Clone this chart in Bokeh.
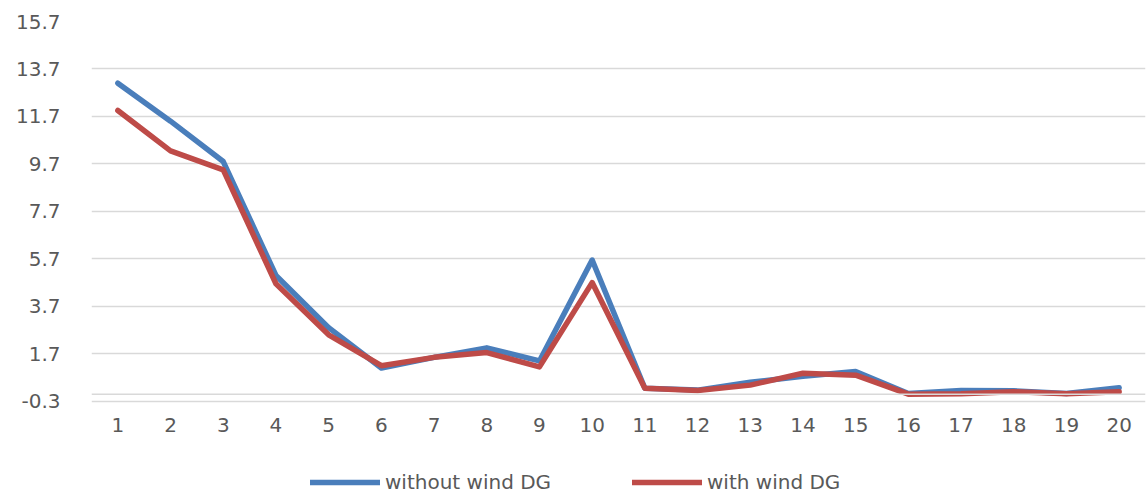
from bokeh.plotting import figure
from bokeh.models import FixedTicker, Span, Legend, LegendItem, Range1d
from bokeh.embed import file_html
from bokeh.resources import INLINE

categories = list(range(1, 21))
without_wind = [13.1, 11.5, 9.8, 5.0, 2.8, 1.1, 1.55, 1.95, 1.4, 5.65,
                0.25, 0.17, 0.5, 0.75, 0.95, 0.03, 0.15, 0.14, 0.03, 0.27]
with_wind = [11.95, 10.25, 9.45, 4.65, 2.5, 1.2, 1.55, 1.75, 1.15, 4.7,
             0.25, 0.15, 0.38, 0.88, 0.8, 0.0, 0.02, 0.1, 0.02, 0.1]
y_ticks = [-0.3, 1.7, 3.7, 5.7, 7.7, 9.7, 11.7, 13.7, 15.7]
series_names = ["without wind DG", "with wind DG"]

FONT = "DejaVu Sans"
TXT = "#595959"
GRID = "#d9d9d9"

# the frame reaches down to the bottom edge so the legend below the
# category labels stays inside it; only -0.3 .. 15.7 carries gridlines
Y_AXIS_MIN = -0.3
Y_FRAME_MIN = -4.27

p = figure(width=1147, height=495, output_backend="svg", toolbar_location=None,
           x_range=Range1d(0.5, 20.5), y_range=Range1d(Y_FRAME_MIN, 15.7),
           min_border_left=91, min_border_right=2, min_border_top=21,
           min_border_bottom=0)
p.outline_line_color = None
p.background_fill_color = "white"

r1 = p.line(categories, without_wind, line_color="#4a7ebb", line_width=5.5,
            line_join="round", line_cap="round")
r2 = p.line(categories, with_wind, line_color="#be4b48", line_width=5.5,
            line_join="round", line_cap="round")

p.yaxis.ticker = FixedTicker(ticks=y_ticks)
p.yaxis.major_label_overrides = {t: f"{t:.1f}" for t in y_ticks}
p.xaxis.ticker = FixedTicker(ticks=categories)
p.xaxis.fixed_location = Y_AXIS_MIN
for ax in (p.xaxis, p.yaxis):
    ax.axis_line_color = None
    ax.major_tick_line_color = None
    ax.minor_tick_line_color = None
    ax.major_label_text_font = FONT
    ax.major_label_text_font_size = "20px"
    ax.major_label_text_color = TXT
p.yaxis.major_label_standoff = 25
p.xaxis.major_label_standoff = 11

p.xgrid.grid_line_color = None
p.ygrid.grid_line_color = GRID
p.ygrid.grid_line_width = 1.5
p.ygrid.ticker = FixedTicker(ticks=y_ticks)

p.add_layout(Span(location=0, dimension="width", line_color=GRID, line_width=1.5))

legend = Legend(items=[LegendItem(label=series_names[0], renderers=[r1]),
                       LegendItem(label=series_names[1], renderers=[r2])],
                orientation="horizontal", location=(219, 1), margin=0,
                glyph_width=70, glyph_height=20, label_standoff=5, spacing=44,
                label_width=203, padding=0, border_line_color=None,
                background_fill_alpha=0,
                label_text_font=FONT, label_text_font_size="20px",
                label_text_color=TXT)
p.add_layout(legend, "center")

open("out.html", "w").write(file_html(p, INLINE))
